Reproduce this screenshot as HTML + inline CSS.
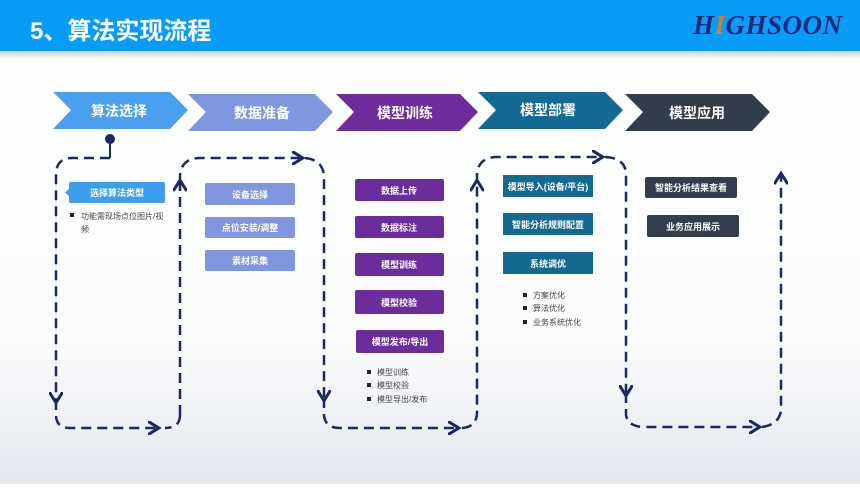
<!DOCTYPE html>
<html><head><meta charset="utf-8"><style>
body{margin:0;width:860px;height:484px;overflow:hidden;font-family:"Liberation Sans","Noto Sans CJK SC",sans-serif;}
</style></head><body>
<svg width="860" height="484" xmlns="http://www.w3.org/2000/svg" font-family="Liberation Sans, Noto Sans CJK SC, sans-serif">
<defs>
<linearGradient id="bg" x1="0" y1="0" x2="0" y2="1">
<stop offset="0" stop-color="#fff"/><stop offset="0.7" stop-color="#fbfcfd"/><stop offset="1" stop-color="#e4e8ef"/></linearGradient>
<linearGradient id="sh" x1="0" y1="0" x2="0" y2="1"><stop offset="0" stop-color="#d0d0d0"/><stop offset="1" stop-color="#fff"/></linearGradient>
<marker id="ar" viewBox="0 0 10 10" refX="6" refY="5" markerWidth="5.5" markerHeight="5.5" orient="auto"><path d="M0,0 L8,5 L0,10" fill="none" stroke="#1b2a5e" stroke-width="2.2"/></marker>
</defs>
<rect width="860" height="484" fill="url(#bg)"/>
<rect width="860" height="51" fill="#089bf8"/>
<rect y="51" width="860" height="8" fill="url(#sh)"/>
<text x="30" y="39" font-size="24" font-weight="bold" fill="#fff">5、算法实现流程</text>
<text x="693" y="34" font-size="27" font-weight="bold" font-style="italic" font-family="Liberation Serif, serif" fill="#1e2a78" letter-spacing="0.5">H<tspan fill="#c8862e">I</tspan>GHSOON</text>
<g font-size="14" font-weight="bold" fill="#fff" text-anchor="middle">
<polygon points="53,92 170,92 188,110 170,129 53,129 71,110" fill="#4a9ff0"/>
<text x="119" y="116">算法选择</text>
<polygon points="188,94 315,94 333,112 315,131 188,131 206,112" fill="#7f97e0"/>
<text x="262" y="118">数据准备</text>
<polygon points="336,94 460,94 478,112 460,131 336,131 354,112" fill="#6f2d9c"/>
<text x="405" y="118">模型训练</text>
<polygon points="478,92 605,92 623,110 605,129 478,129 496,110" fill="#146a94"/>
<text x="548" y="115">模型部署</text>
<polygon points="625,94 752,94 770,112 752,131 625,131 643,112" fill="#323c4b"/>
<text x="697" y="118">模型应用</text>
</g>
<circle cx="110" cy="139" r="5" fill="#1b2a5e"/>
<line x1="110" y1="140" x2="110" y2="158" stroke="#1b2a5e" stroke-width="2"/>
<g fill="none" stroke="#1b2a5e" stroke-width="2.5" stroke-dasharray="10 6">
<path d="M110,158 L72,158 Q56,158 56,175 L56,400" marker-end="url(#ar)"/>
<path d="M56,400 L56,415 Q56,428 70,428 L156,428" marker-end="url(#ar)"/>
<path d="M180,415 Q180,428 165,428 M180,415 L180,183" marker-end="url(#ar)"/>
<path d="M180,183 L180,175 Q182,158 200,158 L300,158" marker-end="url(#ar)"/>
<path d="M305,158 Q324,160 324,178 L324,398" marker-end="url(#ar)"/>
<path d="M324,398 L324,415 Q325,428 340,428 L456,428" marker-end="url(#ar)"/>
<path d="M462,428 Q477,427 477,412 L477,183" marker-end="url(#ar)"/>
<path d="M477,183 L477,172 Q480,157 497,157 L600,157" marker-end="url(#ar)"/>
<path d="M605,157 Q626,158 626,175 L626,393" marker-end="url(#ar)"/>
<path d="M626,393 L626,415 Q628,427 645,427 L757,427" marker-end="url(#ar)"/>
<path d="M762,427 Q781,424 781,408 L781,176" marker-end="url(#ar)"/>
</g>
<g font-size="9" font-weight="bold" fill="#fff" text-anchor="middle">
<rect x="69" y="182" width="96" height="21" rx="2" fill="#3d9ef0"/><polygon points="69,189 65,192.5 69,196" fill="#3d9ef0"/><text x="117" y="196">选择算法类型</text>
<rect x="205" y="183" width="90" height="22" rx="2" fill="#7f96e0"/><text x="250" y="198">设备选择</text>
<rect x="205" y="217" width="90" height="21" rx="2" fill="#7f96e0"/><text x="250" y="231">点位安装/调整</text>
<rect x="205" y="250" width="90" height="21" rx="2" fill="#7f96e0"/><text x="250" y="264">素材采集</text>
<rect x="355" y="179" width="89" height="22" rx="2" fill="#6d2c9c"/><text x="399" y="194">数据上传</text>
<rect x="355" y="216" width="89" height="22" rx="2" fill="#6d2c9c"/><text x="399" y="231">数据标注</text>
<rect x="355" y="253" width="89" height="23" rx="2" fill="#6d2c9c"/><text x="399" y="268">模型训练</text>
<rect x="355" y="290" width="89" height="24" rx="2" fill="#6d2c9c"/><text x="399" y="306">模型校验</text>
<rect x="356" y="330" width="88" height="23" rx="2" fill="#6d2c9c"/><text x="400" y="345">模型发布/导出</text>
<rect x="503" y="175" width="90" height="22" fill="#13698f"/><text x="548" y="190">模型导入(设备/平台)</text>
<rect x="503" y="213" width="90" height="22" fill="#13698f"/><text x="548" y="228">智能分析规则配置</text>
<rect x="503" y="252" width="90" height="22" fill="#13698f"/><text x="548" y="267">系统调优</text>
<rect x="645" y="177" width="92" height="21" rx="2" fill="#333d4d"/><text x="691" y="191">智能分析结果查看</text>
<rect x="647" y="215" width="92" height="22" rx="2" fill="#333d4d"/><text x="693" y="230">业务应用展示</text>
</g>
<g font-size="8" fill="#444">
<rect x="70" y="213" width="4" height="4" fill="#222"/><text x="81" y="219">功能需现场点位图片/视</text><text x="81" y="232">频</text>
<rect x="367" y="370" width="4" height="4" fill="#222"/><text x="377" y="375">模型训练</text>
<rect x="367" y="383" width="4" height="4" fill="#222"/><text x="377" y="388">模型校验</text>
<rect x="367" y="397" width="4" height="4" fill="#222"/><text x="377" y="402">模型导出/发布</text>
<rect x="523" y="293" width="4" height="4" fill="#222"/><text x="533" y="298">方案优化</text>
<rect x="523" y="306" width="4" height="4" fill="#222"/><text x="533" y="311">算法优化</text>
<rect x="523" y="320" width="4" height="4" fill="#222"/><text x="533" y="325">业务系统优化</text>
</g>
</svg>
</body></html>
